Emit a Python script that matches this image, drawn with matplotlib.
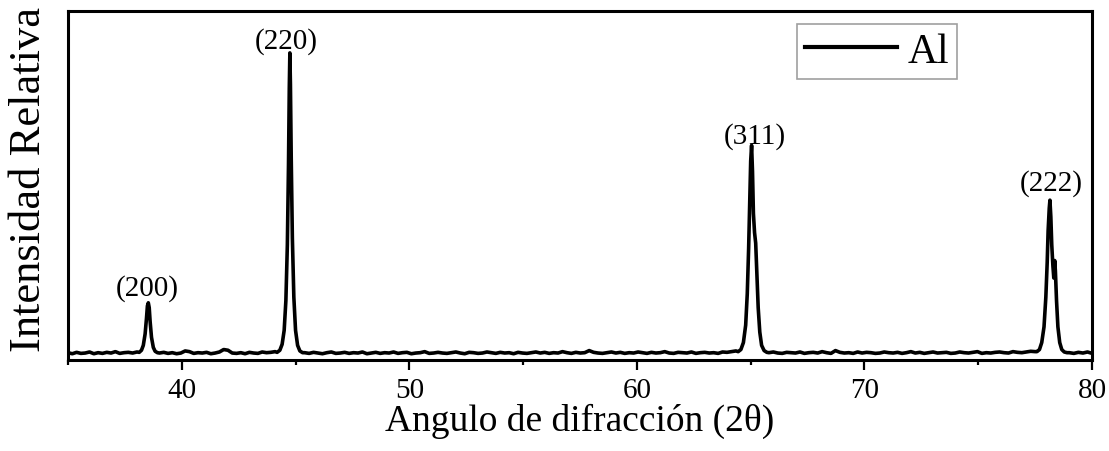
import numpy as np
import matplotlib
matplotlib.use('Agg')
import matplotlib.pyplot as plt

plt.rcParams['font.family'] = ['Liberation Serif', 'DejaVu Serif']

# --- background between reflections (2theta range, intensities on an even grid) ---
bg_a_range = (35.0, 38.03)
bg_a = [21, 18, 22, 19, 20, 23, 18, 21, 19, 22, 20, 24, 19, 21, 22, 20, 23]

bg_b_range = (39.02, 44.1)
bg_b = [20, 22, 19, 21, 18, 20, 26, 24, 19, 21, 20, 22, 18, 20, 23, 30, 28, 20,
        19, 21, 18, 22, 20, 19, 23, 21, 22, 24]

bg_c_range = (45.4, 64.35)
bg_c = [21, 19, 22, 20, 18, 21, 23, 19, 20, 22,
        19, 21, 20, 23, 18, 20, 22, 19, 21, 20,
        23, 19, 21, 22, 18, 20, 21, 24, 19, 20,
        22, 20, 19, 21, 23, 20, 18, 22, 21, 19,
        20, 23, 21, 19, 22, 20, 21, 18, 22, 20,
        19, 21, 23, 20, 22, 19, 21, 20, 24, 21,
        19, 22, 20, 21, 27, 22, 20, 19, 21, 23,
        20, 22, 19, 21, 20, 23, 21, 19, 22, 20,
        21, 24, 20, 19, 22, 21, 20, 23, 19, 21,
        22, 20, 21, 19, 23, 22, 24, 26]

bg_d_range = (65.8, 77.5)
bg_d = [21, 23, 20, 19, 22, 21, 20, 23, 19, 21,
        22, 20, 24, 21, 19, 27, 22, 20, 21, 19,
        23, 20, 22, 21, 19, 20, 23, 21, 20, 22,
        19, 21, 24, 20, 22, 19, 21, 23, 20, 21,
        22, 19, 20, 23, 21, 20, 22, 24, 19, 21,
        20, 22, 23, 21, 20, 24, 22, 21, 23, 25,
        24]

bg_e_range = (79.0, 80.0)
bg_e = [21, 19, 22, 20, 23, 19]

# --- reflections ---
p200_x = [38.13, 38.23, 38.31, 38.39, 38.45, 38.49, 38.53, 38.57, 38.61, 38.67,
          38.75, 38.83, 38.93]
p200_y = [22, 28, 42, 75, 120, 155, 164, 150, 110, 65, 36, 25, 21]

p220_x = [44.19, 44.31, 44.41, 44.50, 44.575, 44.64, 44.69, 44.725, 44.75, 44.775,
          44.81, 44.86, 44.925, 45.00, 45.09, 45.19, 45.31]
p220_y = [22, 28, 45, 85, 170, 330, 560, 780, 880, 790, 580, 350, 180, 85, 42, 26, 21]

p311_x = [64.45, 64.57, 64.68, 64.78, 64.85, 64.91, 64.96, 65.00, 65.04, 65.08,
          65.12, 65.17, 65.22, 65.27, 65.33, 65.40, 65.48, 65.59, 65.71]
p311_y = [24, 30, 50, 100, 190, 320, 460, 570, 615, 540, 420, 365, 335, 250, 150,
          80, 42, 27, 22]

p222_x = [77.58, 77.69, 77.79, 77.89, 77.97, 78.03, 78.07, 78.12, 78.15, 78.19,
          78.23, 78.28, 78.32, 78.36, 78.39, 78.44, 78.50, 78.58, 78.67, 78.78, 78.90]
p222_y = [24, 30, 50, 95, 180, 280, 370, 435, 458, 410, 330, 270, 235, 285, 255,
          170, 95, 50, 30, 23, 21]

# peak annotations
hkl_labels = ['(200)', '(220)', '(311)', '(222)']
hkl_x = [38.48, 44.58, 65.18, 78.19]
hkl_y = [168, 878, 605, 470]


def grid(rng, vals):
    return np.linspace(rng[0], rng[1], len(vals))


two_theta = np.concatenate([grid(bg_a_range, bg_a), p200_x,
                            grid(bg_b_range, bg_b), p220_x,
                            grid(bg_c_range, bg_c), p311_x,
                            grid(bg_d_range, bg_d), p222_x,
                            grid(bg_e_range, bg_e)])
intensity = np.concatenate([bg_a, p200_y, bg_b, p220_y, bg_c, p311_y,
                            bg_d, p222_y, bg_e])

fig = plt.figure(figsize=(11.09, 4.52), dpi=100)
ax = fig.add_axes([0.0613, 0.2013, 0.9234, 0.7721])

ax.plot(two_theta, intensity, color='black', lw=2.6, label='Al')

for lab, x, y in zip(hkl_labels, hkl_x, hkl_y):
    ax.text(x, y, lab, ha='center', va='bottom', fontsize=21)

ax.set_xlim(35, 80)
ax.set_ylim(0, 1000)
ax.set_xticks([40, 50, 60, 70, 80])
ax.set_xticks([35, 45, 55, 65, 75], minor=True)
ax.set_yticks([])
ax.tick_params(axis='x', which='major', direction='out', length=7, width=1.6,
               labelsize=21, pad=5)
ax.tick_params(axis='x', which='minor', direction='out', length=3.6, width=1.6)
for sp in ax.spines.values():
    sp.set_linewidth(2.2)

ax.set_xlabel('Angulo de difracción (2θ)', fontsize=27, labelpad=0)
ax.set_ylabel('Intensidad Relativa', fontsize=32)
ax.yaxis.set_label_coords(-0.0186, 0.521)

leg = ax.legend(loc='upper left', bbox_to_anchor=(0.712, 0.963), borderaxespad=0,
                fontsize=30, handlelength=2.2, handletextpad=0.25, borderpad=0.2,
                fancybox=False, frameon=True)
leg.get_frame().set_edgecolor('#888888')
leg.get_frame().set_linewidth(1.2)
leg.get_lines()[0].set_linewidth(3)

fig.savefig('out.png', dpi=100)
